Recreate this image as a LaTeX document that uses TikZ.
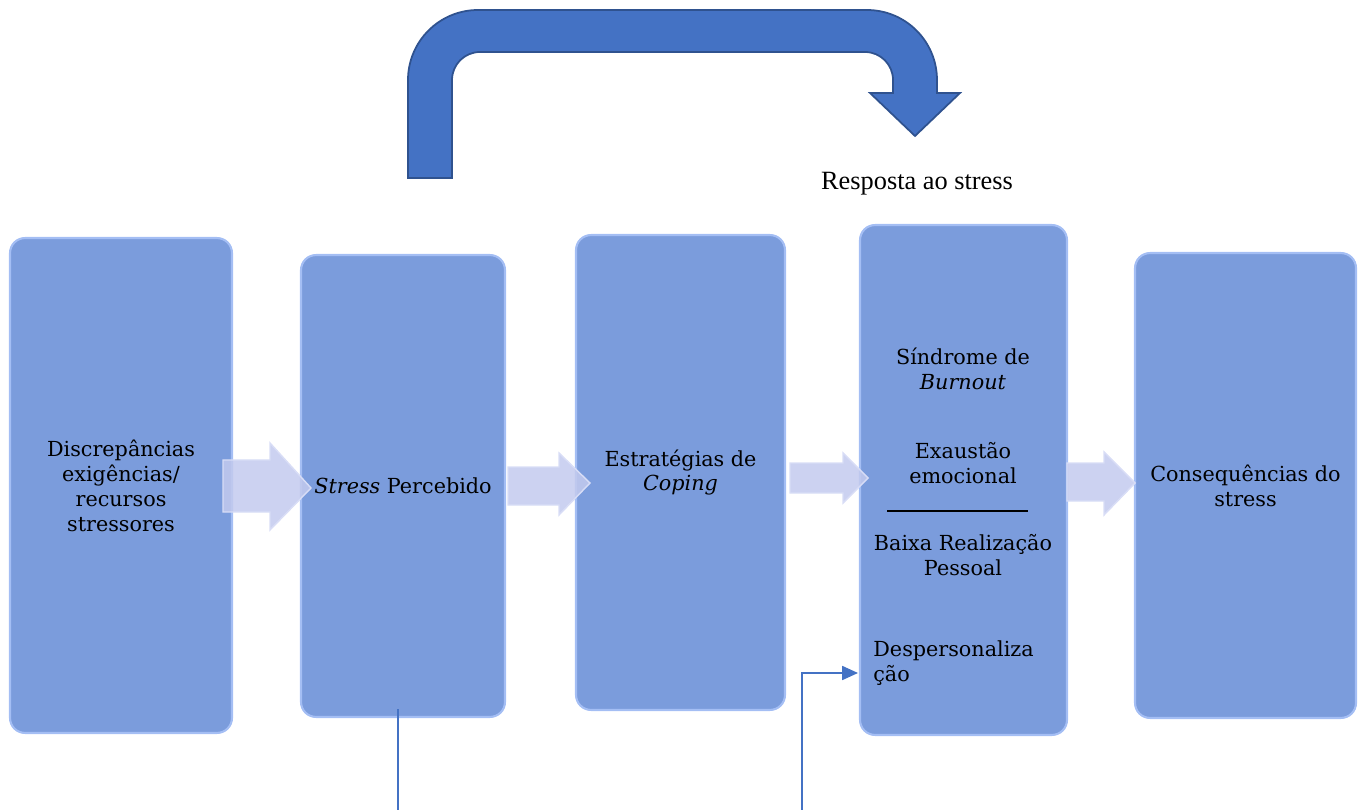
\documentclass[tikz,border=0pt]{standalone}
\usepackage{fontspec}
\setmainfont{DejaVu Serif}
\newfontfamily\timesfont{Liberation Serif}
\usetikzlibrary{arrows.meta}

\definecolor{boxblue}{HTML}{7B9CDC}
\definecolor{boxedge}{HTML}{A4BEF4}
\definecolor{fatfill}{HTML}{C3CAEE}
\definecolor{fatedge}{HTML}{D8DDF6}
\definecolor{uturn}{HTML}{4472C4}
\definecolor{uturnedge}{HTML}{2F528F}

\tikzset{
  stage/.style={draw=boxedge, line width=1.2pt, fill=boxblue, rounded corners=0.3cm,
    align=center, font=\fontsize{11.8}{14.2}\selectfont, inner sep=0pt},
  fat/.style={fill=fatfill, draw=fatedge, line width=0.8pt, fill opacity=0.85},
  link/.style={uturn, line width=0.8pt},
  subtxt/.style={align=center, font=\fontsize{11.8}{14.2}\selectfont, inner sep=0pt}
}

\begin{document}
\begin{tikzpicture}[x=0.02cm,y=-0.02cm]
\useasboundingbox (0,0) rectangle (1365,810);

% stages
\node[stage, minimum width=4.44cm, minimum height=9.9cm] (disc) at (121,485.5)
  {Discrepâncias\\exigências/\\recursos\\stressores};
\node[stage, minimum width=4.08cm, minimum height=9.24cm] (perc) at (403,486)
  {\textit{Stress} Percebido};
\node[stage, minimum width=4.18cm, minimum height=9.5cm] (cop) at (680.5,472.5)
  {Estratégias de\\\textit{Coping}};
\node[stage, minimum width=4.14cm, minimum height=10.2cm] (resp) at (963.5,480) {};
\node[stage, minimum width=4.42cm, minimum height=9.3cm] (cons) at (1245.5,485.5)
  {Consequências do\\stress};

% texts of the burnout stage
\node[subtxt] (burn) at (963,369) {Síndrome de\\\textit{Burnout}};
\node[subtxt] (exau) at (963,463) {Exaustão\\emocional};
\node[subtxt] (baixa) at (963,555) {Baixa Realização\\Pessoal};
\node[subtxt, align=left, anchor=west] (desp) at (873,663) {Despersonaliza\\ção};
\draw[black, line width=0.8pt] (887,511) -- (1028,511);

% block arrows
\draw[fat] (223,460) -- (270,460) -- (270,443) -- (311,488) -- (270,530) -- (270,512) -- (223,512) -- cycle;
\draw[fat] (508,467) -- (559,467) -- (559,453) -- (590,483) -- (559,515) -- (559,505) -- (508,505) -- cycle;
\draw[fat] (790,463) -- (843,463) -- (843,453) -- (868,478) -- (843,503) -- (843,493) -- (790,493) -- cycle;
\draw[fat] (1067,463) -- (1104,463) -- (1104,452) -- (1135,483) -- (1104,515) -- (1104,501) -- (1067,501) -- cycle;

% big u-turn arrow
\draw[fill=uturn, draw=uturnedge, line width=1pt]
  (408,178) -- (408,80) arc (180:90:1.4cm) -- (867,10) arc (90:0:1.4cm)
  -- (937,93) -- (960,93) -- (915,136) -- (870,93) -- (893,93) -- (893,80)
  arc (0:90:0.56cm) -- (480,52) arc (90:180:0.56cm) -- (452,178) -- cycle;
\node[font=\timesfont\fontsize{15}{16}\selectfont] (rlab) at (917,184) {Resposta ao stress};

% thin connectors
\coordinate (p1) at (398,810);
\coordinate (p2) at (802,810);
\draw[link] (p1) -- (p1 |- perc.south) -- ++(0,-9);
\draw[link, -{Triangle[length=9pt,width=8pt]}] (p2) |- ([xshift=-0.3cm,yshift=-0.2cm]desp.west);
\end{tikzpicture}
\end{document}
